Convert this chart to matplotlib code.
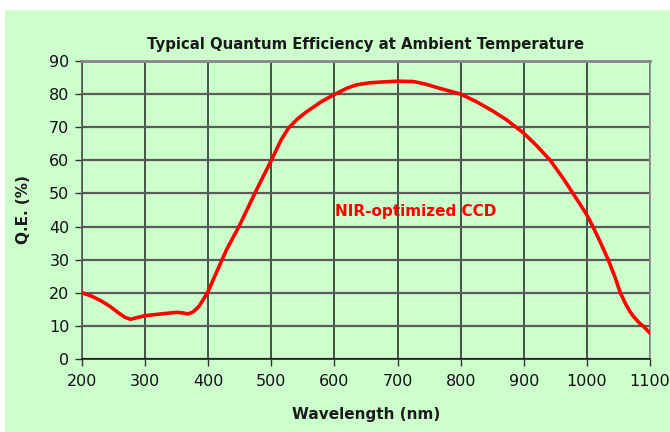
import matplotlib.pyplot as plt
from matplotlib.patches import Rectangle

# wavelength (nm) and quantum efficiency (%)
wavelength = [200, 215, 230, 245, 258, 268, 277, 287, 300, 315, 335, 350, 360, 368, 376, 385,
              393, 400, 415, 429, 450, 475, 500, 515, 527, 542, 556, 580, 600, 620, 635,
              655, 670, 700, 725, 745, 762, 800, 825, 850, 873, 900, 920, 942, 963, 978,
              990, 1000, 1010, 1021, 1034, 1045, 1053, 1062, 1068, 1074, 1083, 1090, 1100]
qe = [20, 19.0, 17.6, 15.8, 13.9, 12.6, 12.0, 12.5, 13.1, 13.4, 13.8, 14.1, 13.9, 13.6, 14.2, 15.8,
      18.2, 20.5, 27, 33, 40.5, 50.5, 60, 66, 69.7, 72.6, 74.7, 77.8, 79.9, 81.8, 82.8,
      83.4, 83.6, 83.9, 83.8, 83.0, 82, 80, 77.7, 75, 72.2, 68.2, 64.5, 60, 54.4, 50,
      46.5, 43.5, 39.8, 35.4, 29.9, 24.5, 20.0, 16.4, 14.4, 12.8, 10.9, 9.8, 7.8]

x_ticks = [200, 300, 400, 500, 600, 700, 800, 900, 1000, 1100]
y_ticks = [0, 10, 20, 30, 40, 50, 60, 70, 80, 90]

green = '#ccffcc'

fig = plt.figure(figsize=(6.7, 4.32), dpi=100, facecolor='white')
fig.patches.append(Rectangle((5 / 670, 0), 1, 1 - 10 / 432, transform=fig.transFigure,
                             facecolor=green, edgecolor='none', zorder=-10))
ax = fig.add_axes([82 / 670, 1 - 359 / 432, (650 - 82) / 670, (359 - 61) / 432])
ax.set_facecolor(green)

ax.plot(wavelength, qe, color='#ff0000', lw=2.6, solid_capstyle='round',
        solid_joinstyle='round', zorder=3)

ax.set_xlim(200, 1100)
ax.set_ylim(0, 90)
ax.set_xticks(x_ticks)
ax.set_yticks(y_ticks)
ax.grid(axis='y', color='#5a5a5a', lw=1.6)
ax.grid(axis='x', color='#222222', lw=1.1)
ax.set_axisbelow(True)

ax.spines['left'].set_color('#555555')
ax.spines['left'].set_linewidth(1.2)
ax.spines['bottom'].set_color('#111111')
ax.spines['bottom'].set_linewidth(1.1)
for side in ['top', 'right']:
    ax.spines[side].set_color('#888888')
ax.spines['top'].set_linewidth(2.0)
ax.spines['right'].set_linewidth(1.2)

ax.tick_params(axis='both', direction='out', length=5, width=1, color='#333333',
               labelsize=11.5, labelcolor='#111111')
ax.tick_params(axis='x', pad=6)
ax.tick_params(axis='y', pad=4)

ax.set_title('Typical Quantum Efficiency at Ambient Temperature', fontsize=10.7,
             fontweight='bold', color='#1a1a1a', pad=9)
ax.set_xlabel('Wavelength (nm)', fontsize=11, fontweight='bold', color='#1a1a1a', labelpad=13)
ax.set_ylabel('Q.E. (%)', fontsize=11, fontweight='bold', color='#1a1a1a', labelpad=13)

ax.text(601, 44.4, 'NIR-optimized CCD', color='#ff0000', fontsize=11,
        fontweight='bold', ha='left', va='center')

fig.savefig('out.png', dpi=100, facecolor='white')
